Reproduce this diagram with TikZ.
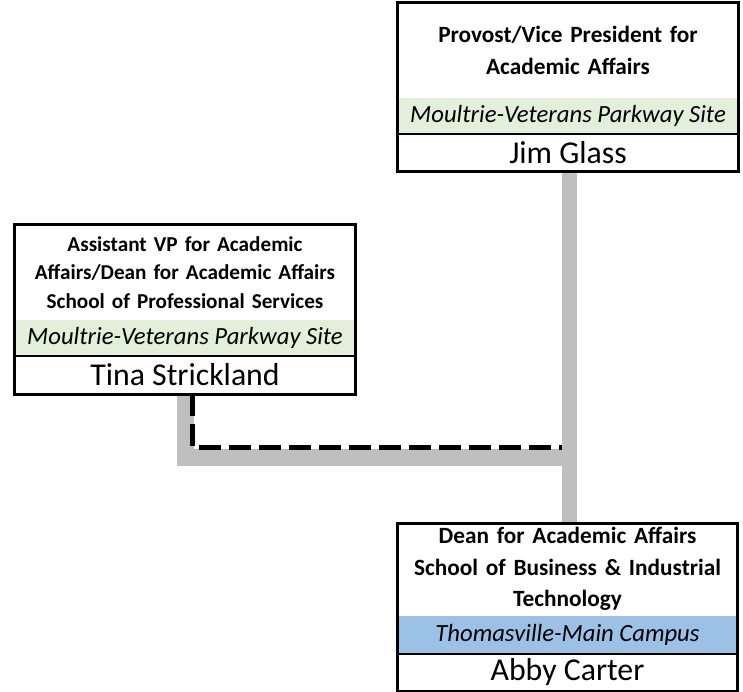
\documentclass[tikz,border=0pt]{standalone}
\usepackage{fontspec}
\setmainfont{Carlito}
\definecolor{sitegreen}{HTML}{E2EFDA}
\definecolor{siteblue}{HTML}{9BC2E6}
\definecolor{linkgrey}{HTML}{BFBFBF}
\tikzset{
  postitle/.style={anchor=north, minimum width=340pt, minimum height=94pt, text width=336pt, align=center, inner sep=0pt, font=\fontsize{23.3}{31.5}\selectfont\bfseries},
  possite/.style={anchor=north, minimum width=340pt, minimum height=36pt, inner sep=0pt, font=\fontsize{24.7}{28}\selectfont\itshape},
  posname/.style={anchor=north, minimum width=340pt, minimum height=37pt, inner sep=0pt, font=\fontsize{31.8}{34}\selectfont},
  posframe/.style={line width=3pt, draw=black},
  possplit/.style={line width=2.5pt, draw=black},
  linkline/.style={line width=15pt, draw=linkgrey},
  linkdash/.style={line width=5pt, draw=black, dash pattern=on 22pt off 8pt},
}

\begin{document}
\begin{tikzpicture}[x=1pt, y=-1pt]
\useasboundingbox (0,0) rectangle (743,692);
% boxes
\node[postitle] (provT) at (568,3) {Provost/Vice President for\\Academic Affairs};
\node[possite, fill=sitegreen] (provS) at (provT.south) {Moultrie-Veterans Parkway Site};
\node[posname] (provN) at (provS.south) {Jim Glass};

\node[postitle, font=\fontsize{21.2}{28.5}\selectfont\bfseries] (tinaT) at (185,225) {Assistant VP for Academic\\Affairs/Dean for Academic Affairs\\School of Professional Services};
\node[possite, fill=sitegreen] (tinaS) at (tinaT.south) {Moultrie-Veterans Parkway Site};
\node[posname, minimum height=38pt] (tinaN) at (tinaS.south) {Tina Strickland};

\node[postitle, minimum height=92pt] (deanT) at (567.5,523) {Dean for Academic Affairs\\School of Business \& Industrial\\Technology};
\node[possite, fill=siteblue, minimum height=38pt] (deanS) at (deanT.south) {Thomasville-Main Campus};
\node[posname] (deanN) at (deanS.south) {Abby Carter};

% links
\coordinate (jn) at (569,457);
\coordinate (dj) at (562,447);
\draw[linkline] ([xshift=1pt]provN.south) -- ([xshift=1.5pt]deanT.north);
\draw[linkline, line width=17pt] (tinaN.south) |- (jn);
\draw[linkdash] ([xshift=7pt]tinaN.south) |- (dj);

% frames
\foreach \b in {prov,tina,dean}{
  \draw[posframe] (\b T.north west) rectangle (\b N.south east);
  \draw[possplit] (\b N.north west) -- (\b N.north east);
}
\end{tikzpicture}
\end{document}
